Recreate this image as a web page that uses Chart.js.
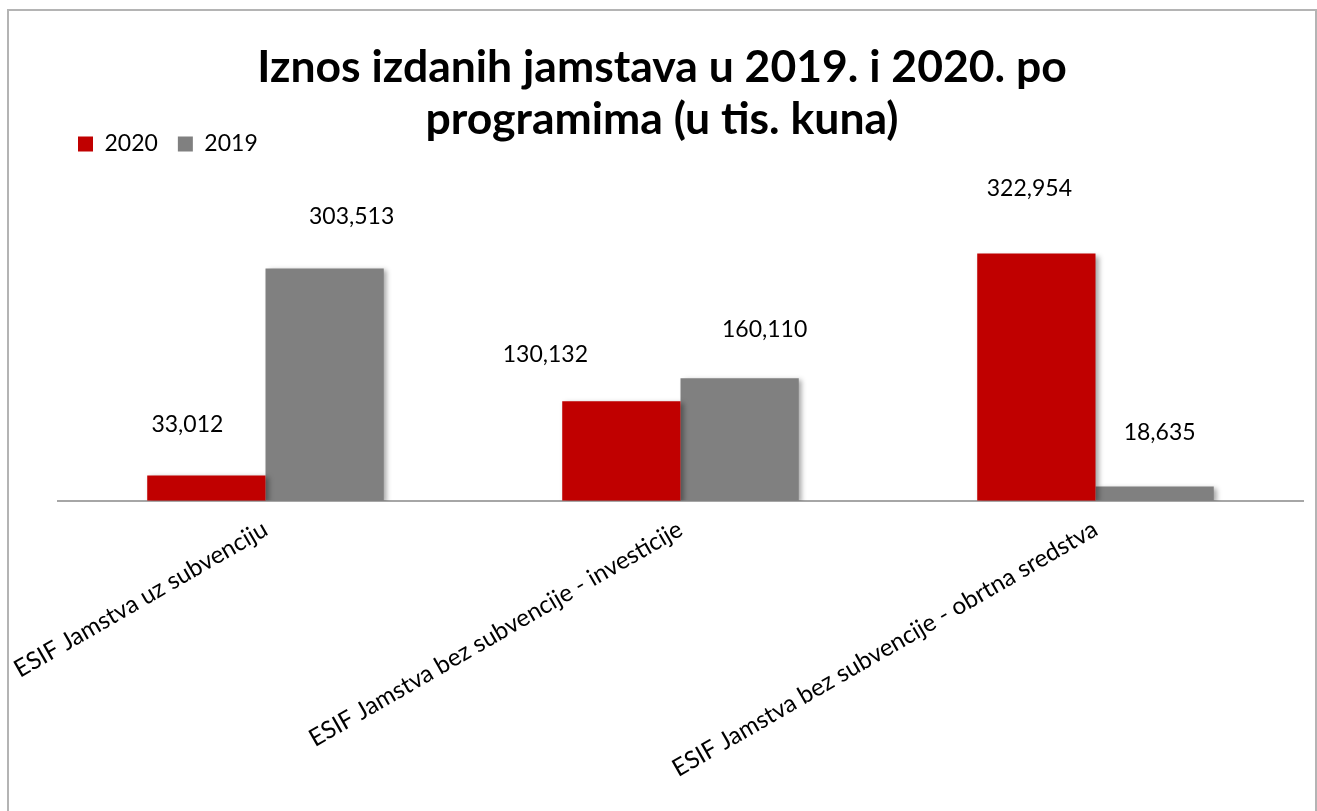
<!DOCTYPE html>
<html>
<head>
<meta charset="utf-8">
<script src="https://cdn.jsdelivr.net/npm/chart.js@4"></script>
<style>
  html, body { margin: 0; padding: 0; background: #fff; overflow: hidden; }
  #frame { position: absolute; left: 7px; top: 9px; width: 1306px; height: 830px; border: 2px solid #b4b4b4; background: #fff; }
  #wrap { position: absolute; left: 0; top: 0; width: 1306px; height: 800px; }
</style>
</head>
<body>
<div id="frame"><div id="wrap"><canvas id="c"></canvas></div></div>
<script>
const categories = [
  'ESIF Jamstva uz subvenciju',
  'ESIF Jamstva bez subvencije - investicije',
  'ESIF Jamstva bez subvencije - obrtna sredstva'
];
const seriesNames = ['2020', '2019'];
const values2020 = [33012, 130132, 322954];
const values2019 = [303513, 160110, 18635];
const titleLines = ['Iznos izdanih jamstava u 2019. i 2020. po', 'programima (u tis. kuna)'];

// label placement tweaks (style only)
const labelOffsets = [
  [[-19, 51], [-76, 47], [-7, 65]],
  [[27, 52], [25, 49], [5, 54]]
];

const fontFamily = 'Lato, "Open Sans", sans-serif';

const shadowPlugin = {
  id: 'barShadow',
  beforeDatasetDraw(chart) {
    const ctx = chart.ctx;
    ctx.save();
    ctx.shadowColor = 'rgba(0,0,0,0.35)';
    ctx.shadowBlur = 5;
    ctx.shadowOffsetX = 3;
    ctx.shadowOffsetY = 2;
  },
  afterDatasetDraw(chart) {
    chart.ctx.restore();
  }
};

const valueLabelPlugin = {
  id: 'valueLabels',
  afterDatasetsDraw(chart) {
    const ctx = chart.ctx;
    ctx.save();
    ctx.font = '23px ' + fontFamily;
    ctx.fillStyle = '#000';
    ctx.textAlign = 'center';
    ctx.textBaseline = 'middle';
    chart.data.datasets.forEach((ds, di) => {
      const meta = chart.getDatasetMeta(di);
      meta.data.forEach((bar, i) => {
        const off = labelOffsets[di][i];
        ctx.fillText(ds.data[i].toLocaleString('en-US'), bar.x + off[0], bar.y - off[1]);
      });
    });
    ctx.restore();
  }
};

new Chart(document.getElementById('c'), {
  type: 'bar',
  data: {
    labels: categories,
    datasets: [
      { label: seriesNames[0], data: values2020, backgroundColor: '#C00000' },
      { label: seriesNames[1], data: values2019, backgroundColor: '#808080' }
    ]
  },
  options: {
    responsive: true,
    maintainAspectRatio: false,
    animation: false,
    layout: { padding: { left: 12, right: 12, top: 0, bottom: 14 } },
    datasets: { bar: { categoryPercentage: 0.57, barPercentage: 1.0 } },
    scales: {
      x: {
        grid: { display: false, drawTicks: false },
        border: { display: true, color: '#a6a6a6', width: 2 },
        ticks: {
          color: '#000',
          font: { family: fontFamily, size: 24.2 },
          minRotation: 30, maxRotation: 30,
          padding: 14,
          autoSkip: false
        },
        afterFit(scale) { scale.paddingLeft = 0; scale.paddingRight = 0; }
      },
      y: {
        display: true,
        min: 0,
        max: 438000,
        grid: { display: false },
        border: { display: false },
        ticks: { display: false },
        afterFit(scale) { scale.width = 37; }
      }
    },
    plugins: {
      title: {
        display: true,
        text: titleLines,
        color: '#000',
        font: { family: fontFamily, size: 44.5, weight: 'bold', lineHeight: 1.163 },
        padding: { top: 31, bottom: -33 }
      },
      legend: {
        display: true,
        position: 'top',
        align: 'start',
        fullSize: false,
        labels: {
          boxWidth: 15,
          boxHeight: 15,
          padding: 20,
          color: '#000',
          font: { family: fontFamily, size: 23 }
        }
      },
      tooltip: { enabled: false }
    }
  },
  plugins: [shadowPlugin, valueLabelPlugin]
});
</script>
</body>
</html>
